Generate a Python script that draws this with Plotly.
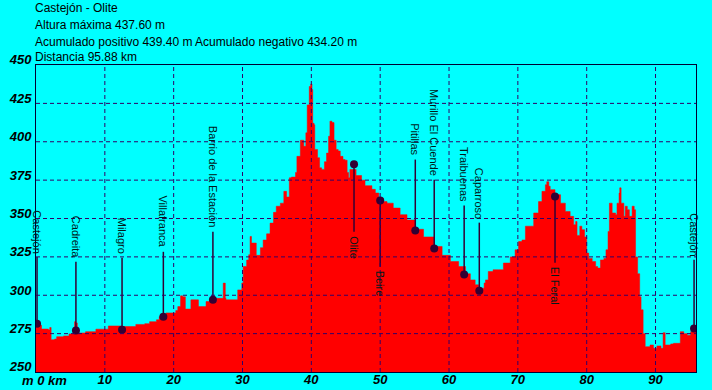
import plotly.graph_objects as go

# ---- data ----
title_lines = [
    "Castejón - Olite",
    "Altura máxima 437.60 m",
    "Acumulado positivo 439.40 m Acumulado negativo 434.20 m",
    "Distancia 95.88 km",
]

dist_km = [
    0.0, 0.6, 0.8, 1.8, 2.0, 2.1, 2.2, 2.7, 3.0, 4.0, 4.8, 5.5, 5.6, 5.8, 6.0, 6.8,
    7.2, 8.7, 10.5, 12.5, 14.5, 15.8, 16.5, 17.5, 17.9, 18.9, 19.4, 20.3, 20.6, 21.0,
    21.3, 21.7, 22.4, 22.5, 23.3, 23.6, 24.5, 24.7, 25.8, 26.2, 27.1, 27.2, 27.5, 27.6,
    29.0, 29.3, 29.9, 30.1, 30.6, 30.9, 31.1, 31.3, 31.8, 32.0, 32.6, 33.0, 33.5, 34.0,
    34.5, 34.9, 35.5, 36.0, 36.4, 36.8, 37.1, 37.7, 37.9, 38.4, 38.8, 38.9, 39.2, 39.4,
    39.7, 39.9, 40.1, 40.2, 40.4, 40.5, 40.9, 41.2, 41.5, 41.9, 42.2, 42.5, 42.7, 43.0,
    43.3, 43.6, 43.9, 44.2, 44.6, 44.9, 45.2, 45.4, 45.6, 46.5, 47.3, 47.8, 48.8, 49.3,
    49.8, 50.5, 51.0, 51.9, 52.9, 53.9, 55.1, 56.3, 57.8, 59.0, 60.2, 61.4, 62.4, 63.1,
    63.8, 64.3, 64.9, 65.1, 65.3, 65.7, 66.4, 67.2, 67.9, 68.9, 69.6, 70.1, 70.6, 71.1,
    71.8, 72.3, 73.0, 73.5, 74.0, 74.2, 74.5, 74.7, 75.4, 76.2, 76.9, 77.6, 78.1, 78.4,
    78.6, 79.0, 79.3, 79.7, 80.0, 80.3, 80.8, 81.3, 81.6, 82.0, 82.5, 82.8, 83.1, 83.3,
    83.7, 84.2, 84.4, 84.7, 84.8, 85.0, 85.4, 85.6, 85.9, 86.2, 86.6, 86.9, 87.1, 87.4,
    87.7, 87.9, 88.2, 88.5, 89.2, 89.7, 90.2, 90.8, 91.1, 91.4, 92.2, 92.6, 93.2, 93.6,
    94.1, 94.6, 95.1, 95.5, 95.88,
]
elev_m = [
    280.5, 280.5, 278, 277.4, 279, 279, 271, 271.5, 273, 273.5, 274.8, 276, 282.8, 282, 275.4, 275.4,
    276.3, 277.9, 280, 279.6, 281, 281.5, 282.8, 284, 286, 288.5, 288.5, 290, 292.6, 299.6,
    299, 291, 291, 297, 297, 292.6, 292.6, 295.9, 296, 298, 298, 307.9, 298, 297,
    297, 303.5, 308, 318.7, 323, 326.4, 338.3, 334, 334, 326, 331, 336, 340, 347,
    354, 358, 360, 367.7, 364, 376.5, 377, 380, 390.5, 401, 401, 397, 405.8, 424,
    436, 437.6, 434, 412, 411, 395, 389.6, 383, 382, 387, 392.6, 403.6, 413.4, 412.5,
    401, 395, 394, 390.5, 388.4, 388, 380, 376.6, 382, 378, 375, 371.4, 369, 366.6,
    363, 361, 360, 356.8, 352.5, 349, 343, 338, 331.8, 326, 322, 318.7, 314, 310,
    306.8, 304.6, 304.6, 308, 310, 315.5, 316.6, 316.6, 321, 325, 329.6, 335, 336, 345,
    345, 353.6, 361, 367.7, 372, 374, 371, 368.8, 365.5, 360, 354.6, 351.4, 346, 348,
    339, 345, 342.7, 338, 327.5, 324, 322, 318.7, 317.7, 323, 324, 329.6, 341.6, 360,
    353.6, 352.5, 360, 366.6, 370, 360, 351.4, 358, 355.7, 351.4, 358, 355.7, 325, 314,
    299, 290.5, 275, 266.5, 267.6, 265.4, 267, 265.4, 275.6, 267.6, 268.3, 268.7, 268.7, 276.3,
    275, 274, 276.3, 278.5, 279.6,
]

wp_names = ["Castejón", "Cadreita", "Milagro", "Villafranca", "Barrio de la Estación",
            "Olite", "Beire", "Pitillas", "Murillo El Cuende", "Traibuenas", "Caparroso",
            "El Feral", "Castejón"]
wp_km = [0.15, 5.8, 12.5, 18.5, 25.7, 46.2, 50.0, 55.1, 57.85, 62.2, 64.4, 75.4, 95.6]
wp_elev = [281.5, 277, 277.5, 286, 297, 385.3, 361.8, 342.2, 330.5, 313.5, 303, 364.4, 278.3]

x_ticks = [10, 20, 30, 40, 50, 60, 70, 80, 90]
y_ticks = [250, 275, 300, 325, 350, 375, 400, 425, 450]

# ---- layout helpers (label placement) ----
label_end = [325, 321.8, 324.4, 328.3, 341.4, 341.4, 318.5, 388.4, 375.3, 358.4, 347.3, 321.1, 323.1]
label_side = ["up", "up", "up", "up", "up", "down", "down", "up", "up", "up", "up", "down", "up"]

BG = "#00FFFF"
RED = "#FF0000"
DARK = "#330033"
GRID = "#330066"
FRAME = "#000033"

fig = go.Figure()
fig.add_trace(go.Scatter(
    x=dist_km, y=elev_m, mode="lines", line=dict(shape="hv", width=0.5, color=RED),
    fill="tozeroy", fillcolor=RED, hoverinfo="skip", showlegend=False,
))

# leader lines
lx, ly = [], []
for k, e, le in zip(wp_km, wp_elev, label_end):
    lx += [k, k, None]
    ly += [e, le, None]
fig.add_trace(go.Scatter(x=lx, y=ly, mode="lines", line=dict(color=DARK, width=1.5),
                         showlegend=False, hoverinfo="skip"))
fig.add_trace(go.Scatter(x=wp_km, y=wp_elev, mode="markers",
                         marker=dict(color=DARK, size=8), showlegend=False, hoverinfo="skip"))

annotations = []
for name, k, le, side in zip(wp_names, wp_km, label_end, label_side):
    annotations.append(dict(
        x=k, y=le, xref="x", yref="y", text=name, showarrow=False, textangle=90,
        xanchor="center", yanchor="bottom" if side == "up" else "top",
        yshift=2 if side == "up" else -2,
        font=dict(family="Liberation Sans", size=11, color="#001a1a"),
    ))

title_y_px = [8, 25, 42, 57]
for txt, ypx in zip(title_lines, title_y_px):
    annotations.append(dict(
        x=(33 - 36) / 660, y=(372 - ypx) / 307, xref="paper", yref="paper",
        text=txt, showarrow=False, xanchor="left", yanchor="middle",
        font=dict(family="Liberation Sans", size=12, color="black"),
    ))

annotations.append(dict(
    x=(20 - 36) / 660, y=(372 - 380) / 307, xref="paper", yref="paper",
    text="m 0 km", showarrow=False, xanchor="left", yanchor="middle",
    font=dict(family="Liberation Sans", size=13, color="black", weight="bold", style="italic"),
))

shapes = []
for v in x_ticks:
    shapes.append(dict(type="line", xref="x", yref="paper", x0=v, x1=v, y0=0, y1=1,
                       line=dict(color=GRID, width=1, dash="4px,3px"), layer="above"))
for v in y_ticks[1:-1]:
    shapes.append(dict(type="line", xref="paper", yref="y", x0=0, x1=1, y0=v, y1=v,
                       line=dict(color=GRID, width=1, dash="4px,3px"), layer="above"))

tickfont = dict(family="Liberation Sans", size=13, color="black", weight="bold", style="italic")

fig.update_layout(
    width=712, height=390,
    margin=dict(l=36, r=16, t=65, b=18),
    paper_bgcolor=BG, plot_bgcolor=BG,
    annotations=annotations, shapes=shapes,
    xaxis=dict(range=[0, 95.88], tickvals=x_ticks, ticktext=[str(v) for v in x_ticks],
               showgrid=False, zeroline=False, showline=True, linecolor=FRAME, linewidth=1,
               mirror=True, ticks="", tickfont=tickfont, layer="above traces", automargin=False,
               ticklabelstandoff=-5),
    yaxis=dict(range=[250, 450], tickvals=y_ticks, ticktext=[str(v) for v in y_ticks],
               showgrid=False, zeroline=False, showline=True, linecolor=FRAME, linewidth=1,
               mirror=True, ticks="", tickfont=tickfont, layer="above traces", ticklabelstandoff=1,
               ticklabelposition="outside top", ticklabelshift=4, automargin=False),
)

fig.write_html("out.html", config={"displayModeBar": False},
               post_script="document.body.style.margin='0';document.body.style.overflow='hidden';")
